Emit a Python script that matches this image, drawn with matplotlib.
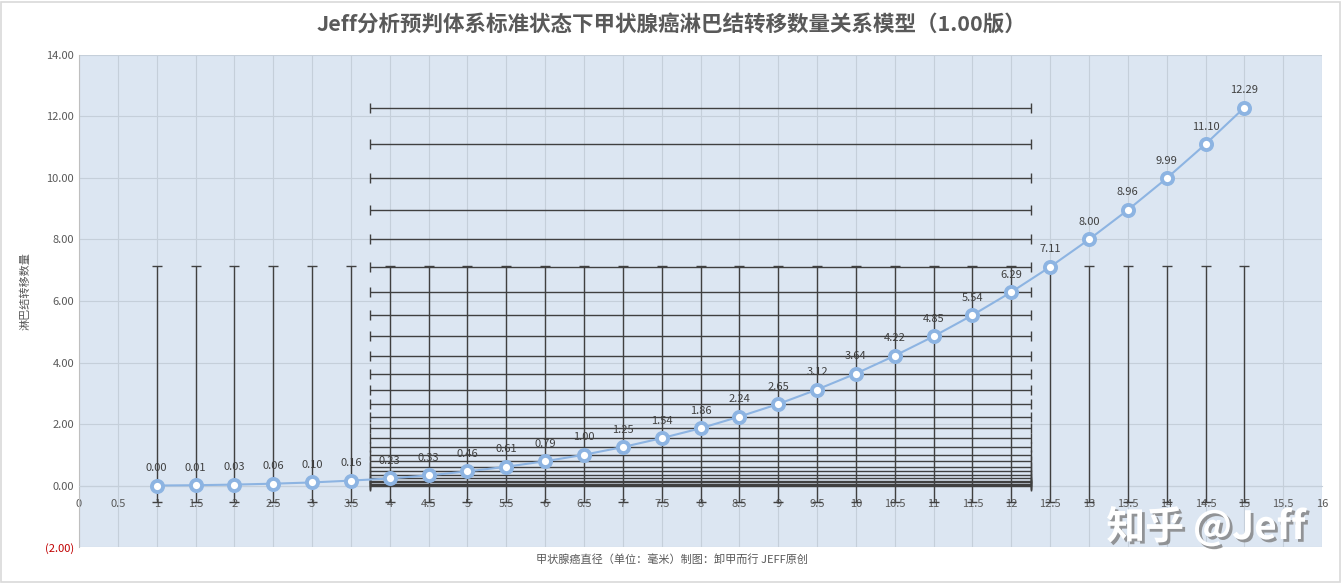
import matplotlib
matplotlib.use("Agg")
import matplotlib.pyplot as plt
import matplotlib.patheffects as pe
from matplotlib.ticker import FuncFormatter, MultipleLocator

plt.rcParams['font.family'] = ['Noto Sans CJK SC', 'DejaVu Sans']

# 数据
diameter = [1, 1.5, 2, 2.5, 3, 3.5, 4, 4.5, 5, 5.5, 6, 6.5, 7, 7.5, 8, 8.5, 9, 9.5,
            10, 10.5, 11, 11.5, 12, 12.5, 13, 13.5, 14, 14.5, 15]
metastasis = [0.00, 0.01, 0.03, 0.06, 0.10, 0.16, 0.23, 0.33, 0.46, 0.61, 0.79, 1.00,
              1.25, 1.54, 1.86, 2.24, 2.65, 3.12, 3.64, 4.22, 4.85, 5.54, 6.29, 7.11,
              8.00, 8.96, 9.99, 11.10, 12.29]
# 误差线范围
xerr_range = [3.75, 12.25]
yerr_range = [-0.55, 7.14]

title = "Jeff分析预判体系标准状态下甲状腺癌淋巴结转移数量关系模型（1.00版）"
xlabel = "甲状腺癌直径（单位：毫米）制图：卸甲而行 JEFF原创"
ylabel = "淋巴结转移数量"

gray = "#595959"
bar_color = "#404040"
line_color = "#8DB4E2"

fig = plt.figure(figsize=(13.43, 5.83), dpi=100)
ax = fig.add_axes([0.0588, 0.0617, 0.9256, 0.844])
ax.set_facecolor("#DCE6F2")

ax.set_xlim(0, 16)
ax.set_ylim(-2, 14)
ax.xaxis.set_major_locator(MultipleLocator(0.5))
ax.yaxis.set_major_locator(MultipleLocator(2))
ax.grid(True, color="#C5CFDA", linewidth=0.8)
ax.set_axisbelow(True)

for s in ["top", "right"]:
    ax.spines[s].set_visible(False)
ax.spines["left"].set_color("#BFBFBF")
ax.spines["bottom"].set_position(("data", 0))
ax.spines["bottom"].set_color("#C5CFDA")
ax.tick_params(length=0, labelsize=8, colors=gray)
ax.tick_params(axis="x", pad=10)
ax.xaxis.set_major_formatter(FuncFormatter(lambda v, p: "%g" % v))
ax.yaxis.set_major_formatter(FuncFormatter(lambda v, p: "(%.2f)" % -v if v < 0 else "%.2f" % v))

# 误差线
ax.vlines(diameter, yerr_range[0], yerr_range[1], color=bar_color, linewidth=1, zorder=3)
ax.plot(diameter, [yerr_range[1]] * len(diameter), linestyle="none", marker="_",
        markersize=7, color=bar_color, zorder=3)
ax.plot(diameter, [yerr_range[0]] * len(diameter), linestyle="none", marker="_",
        markersize=7, color=bar_color, zorder=3)
ax.hlines(metastasis, xerr_range[0], xerr_range[1], color=bar_color, linewidth=1, zorder=3)
ax.plot([xerr_range[0]] * len(metastasis), metastasis, linestyle="none", marker="|",
        markersize=7, color=bar_color, zorder=3)
ax.plot([xerr_range[1]] * len(metastasis), metastasis, linestyle="none", marker="|",
        markersize=7, color=bar_color, zorder=3)

ax.plot(diameter, metastasis, color=line_color, linewidth=1.5, marker="o", markersize=8,
        markerfacecolor="white", markeredgecolor=line_color, markeredgewidth=2.8, zorder=4)

for x, y in zip(diameter, metastasis):
    ax.annotate("%.2f" % y, (x, y), xytext=(0, 9), textcoords="offset points",
                ha="center", va="bottom", fontsize=8, color="#404040", zorder=2)

fig.canvas.draw()
for lab in ax.get_yticklabels():
    if lab.get_text().startswith("("):
        lab.set_color("#C00000")

fig.text(0.5, 0.958, title, ha="center", va="center", fontsize=15.5, color=gray,
         fontweight="bold")
fig.text(0.5, 0.04, xlabel, ha="center", va="center", fontsize=8, color=gray)
fig.text(0.019, 0.5, ylabel, ha="center", va="center", rotation=90, fontsize=8, color=gray)

fig.text(0.898, 0.096, "知乎 @Jeff", ha="center", va="center", fontsize=28, color="white",
         fontweight="bold",
         path_effects=[pe.withSimplePatchShadow(offset=(2, -2), shadow_rgbFace="#7F7F7F", alpha=0.8)])

border = plt.Rectangle((0.001, 0.002), 0.997, 0.995, transform=fig.transFigure, fill=False,
                       edgecolor="#D9D9D9", linewidth=1.2)
fig.patches.append(border)

fig.savefig("out.png", dpi=100)
